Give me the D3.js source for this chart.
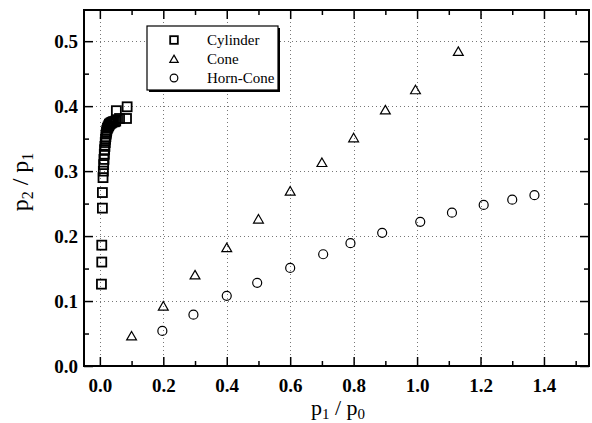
<!DOCTYPE html>
<html>
<head>
<meta charset="utf-8">
<script src="https://cdn.jsdelivr.net/npm/d3@7/dist/d3.min.js"></script>
<style>
  html, body { margin: 0; padding: 0; background: #fff; }
  svg { display: block; }
</style>
</head>
<body>
<svg id="chart" width="592" height="423"></svg>
<script>
// ---- data ----
const cylinderX = [0.005, 0.006, 0.006, 0.008, 0.008, 0.010, 0.011, 0.012, 0.013, 0.014, 0.015, 0.016, 0.017, 0.018, 0.019, 0.020, 0.021, 0.022, 0.024, 0.026, 0.028, 0.030, 0.032, 0.035, 0.038, 0.042, 0.046, 0.050, 0.052, 0.062, 0.084, 0.086];
const cylinderY = [0.126, 0.160, 0.186, 0.243, 0.267, 0.290, 0.300, 0.310, 0.318, 0.326, 0.333, 0.338, 0.344, 0.349, 0.353, 0.357, 0.360, 0.363, 0.366, 0.368, 0.370, 0.372, 0.373, 0.374, 0.375, 0.376, 0.376, 0.377, 0.393, 0.381, 0.381, 0.399];
const coneX = [0.10, 0.20, 0.30, 0.40, 0.50, 0.60, 0.70, 0.80, 0.90, 0.995, 1.13];
const coneY = [0.046, 0.092, 0.140, 0.182, 0.226, 0.269, 0.313, 0.351, 0.394, 0.425, 0.484];
const hornX = [0.197, 0.295, 0.40, 0.496, 0.60, 0.704, 0.79, 0.89, 1.01, 1.11, 1.21, 1.30, 1.37];
const hornY = [0.054, 0.079, 0.108, 0.128, 0.151, 0.172, 0.189, 0.205, 0.222, 0.236, 0.248, 0.256, 0.263];
const seriesNames = ["Cylinder", "Cone", "Horn-Cone"];
const xTicks = [0.0, 0.2, 0.4, 0.6, 0.8, 1.0, 1.2, 1.4];
const yTicks = [0.0, 0.1, 0.2, 0.3, 0.4, 0.5];
const xMinor = [0.1, 0.3, 0.5, 0.7, 0.9, 1.1, 1.3, 1.5];
const yMinor = [0.05, 0.15, 0.25, 0.35, 0.45];

// ---- layout ----
const L = 84, R = 589, T = 10, B = 366;
const x = d3.scaleLinear().domain([-0.05, 1.542]).range([L, R]);
const y = d3.scaleLinear().domain([0, 0.548]).range([B, T]);
const svg = d3.select("#chart");
const serif = "Liberation Serif";

// grid
const grid = svg.append("g").attr("stroke", "#777").attr("stroke-width", 1).attr("stroke-dasharray", "1,3");
grid.selectAll(".gx").data(xTicks).join("line")
  .attr("x1", d => Math.round(x(d)) + 0.5).attr("x2", d => Math.round(x(d)) + 0.5)
  .attr("y1", T).attr("y2", B);
grid.selectAll(".gy").data(yTicks.filter(d => d > 0)).join("line")
  .attr("y1", d => Math.round(y(d)) + 0.5).attr("y2", d => Math.round(y(d)) + 0.5)
  .attr("x1", L).attr("x2", R);

// axes (ticks inward on all four sides)
function axisSet(gen, transform, ticks, size) {
  const g = svg.append("g").attr("transform", transform)
    .call(gen.tickValues(ticks).tickSize(size).tickFormat(""));
  g.select(".domain").remove();
  g.selectAll(".tick line").attr("stroke", "#000").attr("stroke-width", 1.5);
  return g;
}
axisSet(d3.axisTop(x), `translate(0,${B})`, xTicks, 9);
axisSet(d3.axisTop(x), `translate(0,${B})`, xMinor, 5);
axisSet(d3.axisBottom(x), `translate(0,${T})`, xTicks, 9);
axisSet(d3.axisBottom(x), `translate(0,${T})`, xMinor, 5);
axisSet(d3.axisRight(y), `translate(${L},0)`, yTicks, 9);
axisSet(d3.axisRight(y), `translate(${L},0)`, yMinor, 5);
axisSet(d3.axisLeft(y), `translate(${R},0)`, yTicks, 9);
axisSet(d3.axisLeft(y), `translate(${R},0)`, yMinor, 5);

// tick labels
const xl = svg.append("g").attr("transform", `translate(0,${B})`)
  .call(d3.axisBottom(x).tickValues(xTicks).tickSize(0).tickPadding(13).tickFormat(d3.format(".1f")));
xl.select(".domain").remove();
xl.selectAll("text").style("font-family", serif).style("font-size", "19px").style("font-weight", "bold").attr("fill", "#000");
const yl = svg.append("g").attr("transform", `translate(${L},0)`)
  .call(d3.axisLeft(y).tickValues(yTicks).tickSize(0).tickPadding(6).tickFormat(d3.format(".1f")));
yl.select(".domain").remove();
yl.selectAll("text").style("font-family", serif).style("font-size", "19px").style("font-weight", "bold").attr("fill", "#000");

// frame
svg.append("rect").attr("x", L).attr("y", T).attr("width", R - L).attr("height", B - T)
  .attr("fill", "none").attr("stroke", "#000").attr("stroke-width", 2);

// axis titles
const xt = svg.append("text").attr("x", 338).attr("y", 415).attr("text-anchor", "middle")
  .style("font-family", serif).style("font-size", "22px").attr("fill", "#000");
xt.append("tspan").text("p");
xt.append("tspan").style("font-size", "15px").attr("dy", 4).text("1");
xt.append("tspan").attr("dy", -4).text(" / p");
xt.append("tspan").style("font-size", "15px").attr("dy", 4).text("0");

const yt = svg.append("text").attr("transform", "translate(28,182) rotate(-90)").attr("text-anchor", "middle")
  .style("font-family", serif).style("font-size", "24px").attr("fill", "#000");
yt.append("tspan").text("p");
yt.append("tspan").style("font-size", "16px").attr("dy", 5).text("2");
yt.append("tspan").attr("dy", -5).text(" / p");
yt.append("tspan").style("font-size", "16px").attr("dy", 5).text("1");

// symbols
const sqSize = 9, triSize = 42, circR = 4.5;
function drawSymbol(g, kind, cx, cy, scale) {
  const s = scale || 1;
  if (kind === 0) {
    g.append("rect").attr("x", cx - sqSize * s / 2).attr("y", cy - sqSize * s / 2)
      .attr("width", sqSize * s).attr("height", sqSize * s)
      .attr("fill", "none").attr("stroke", "#000").attr("stroke-width", 1.8);
  } else if (kind === 1) {
    g.append("path").attr("transform", `translate(${cx},${cy + 1})`)
      .attr("d", d3.symbol(d3.symbolTriangle, triSize * s * s)())
      .attr("fill", "none").attr("stroke", "#000").attr("stroke-width", 1.2);
  } else {
    g.append("circle").attr("cx", cx).attr("cy", cy).attr("r", circR * s)
      .attr("fill", "none").attr("stroke", "#000").attr("stroke-width", 1.2);
  }
}
const pts = svg.append("g");
cylinderX.forEach((v, i) => drawSymbol(pts, 0, x(v), y(cylinderY[i])));
coneX.forEach((v, i) => drawSymbol(pts, 1, x(v), y(coneY[i])));
hornX.forEach((v, i) => drawSymbol(pts, 2, x(v), y(hornY[i])));

// legend
const lg = svg.append("g");
lg.append("rect").attr("x", 149).attr("y", 28).attr("width", 131).attr("height", 64).attr("fill", "#000");
lg.append("rect").attr("x", 147).attr("y", 26).attr("width", 131).attr("height", 64)
  .attr("fill", "#fff").attr("stroke", "#000").attr("stroke-width", 1.2);
seriesNames.forEach((name, i) => {
  const cy = 40 + i * 19;
  drawSymbol(lg, i, 174, cy, 0.85);
  lg.append("text").attr("x", 207).attr("y", cy + 5)
    .style("font-family", serif).style("font-size", "15px").attr("fill", "#000").text(name);
});
</script>
</body>
</html>
